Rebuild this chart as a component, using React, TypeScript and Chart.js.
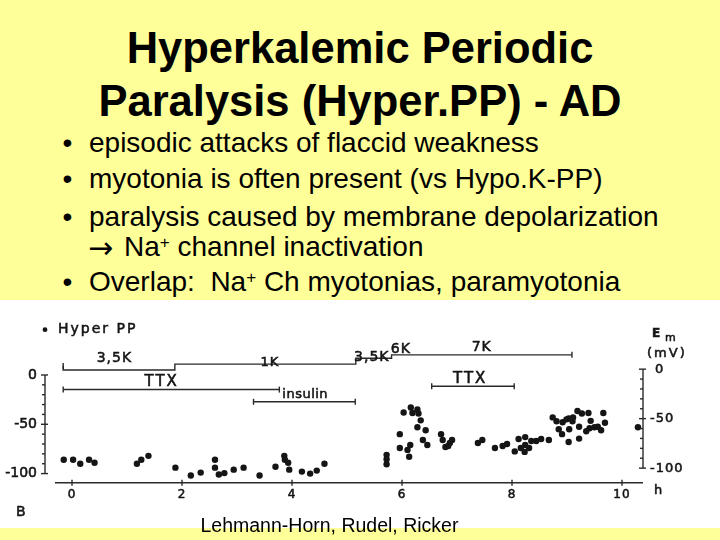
import React, { useEffect, useRef } from "react";
import { Chart, registerables } from "chart.js";

Chart.register(...registerables);

// ---- Data: membrane potential of Hyper PP muscle fibres over time ----
const hours = [
  -0.15, 0.02, 0.15, 0.31, 0.41, 1.18, 1.26, 1.39, 1.88, 2.16, 2.34, 2.6, 2.6, 2.67, 2.77,
  2.94, 3.12, 3.41, 3.7, 3.86, 3.87, 3.93, 3.95, 4.18, 4.33, 4.45, 4.59,
  5.72, 5.72, 5.72, 5.96, 5.96, 6.03, 6.1, 6.13, 6.15, 6.16, 6.19, 6.28, 6.3, 6.34, 6.28,
  6.38, 6.43, 6.46, 6.71, 6.74, 6.79, 6.84, 6.87, 6.91, 7.38, 7.46, 7.69, 7.83, 7.91,
  8.05, 8.12, 8.16, 8.23, 8.24, 8.24, 8.31, 8.35, 8.44, 8.53, 8.67, 8.74, 8.81, 8.85,
  8.91, 8.92, 8.99, 9.03, 9.03, 9.04, 9.1, 9.11, 9.19, 9.22, 9.22, 9.27, 9.35, 9.39,
  9.41, 9.43, 9.5, 9.56, 9.62, 9.66, 9.69, 10.29,
];
const emMv = [
  -86, -86, -90, -86, -89, -90, -86, -82, -94, -102, -99, -86, -94, -101, -99.5,
  -96, -94, -102, -93, -82, -86, -89, -96, -98, -100, -97, -90,
  -81, -85.5, -90.5, -60, -74, -38, -76, -83, -71, -33, -38.5, -35, -39, -46, -53,
  -66, -56, -71, -60, -66, -73, -72, -69, -66, -69, -66, -74, -72, -70,
  -77.5, -65, -74, -78, -63, -71, -74, -67, -67, -65, -66, -43, -47, -55,
  -60, -48, -45, -44, -68, -55, -47, -43, -36.5, -52.5, -64.5, -39, -57, -38.5,
  -54, -46.5, -53, -52.5, -56, -38.5, -48.5, -53,
];

// External K+ concentration steps (start hour of each level, last = end)
const kStepH = [-0.16, 1.87, 5.16, 5.81, 6.13, 9.09];
const kStepLevel = [9, 5, 11, 17, 20.4, 20.4];
const kLabels = ["3,5K", "1K", "3,5K", "6K", "7K"];
const kLabelH = [0.77, 3.6, 5.45, 5.98, 7.45];
const kLabelLevel = [17, 12.7, 17.4, 26.3, 28.2];

// Treatment bars
const barStartH = [-0.16, 3.3, 6.54];
const barEndH = [3.77, 5.15, 8.04];
const barLevel = [-14.8, -27.2, -11.4];
const barLabels = ["TTX", "insulin", "TTX"];
const barLabelH = [1.63, 4.24, 7.24];
const barLabelLevel = [-6.9, -20, -4.2];

// Axes
const xTicks = [0, 2, 4, 6, 8, 10];
const yTicks = [0, -50, -100];
const X_MIN = -0.4909;
const X_MAX = 10.3818;
const Y_MIN = -109.25;
const Y_MAX = 70.57;
const Y2_MIN = -114.71;
const Y2_MAX = 64.41;

const INK = "#151515";
const LINE = "#2a2a2a";

function drawText(
  ctx: CanvasRenderingContext2D,
  s: string,
  px: number,
  py: number,
  align: CanvasTextAlign,
  size: number,
  spacing: number,
  weight = "normal"
) {
  ctx.font = `${weight} ${size}px "DejaVu Sans", sans-serif`;
  (ctx as any).letterSpacing = `${spacing}px`;
  ctx.textAlign = align;
  ctx.textBaseline = "middle";
  ctx.fillText(s, px, py);
  ctx.save();
  ctx.lineWidth = 0.55;
  ctx.strokeStyle = INK;
  ctx.strokeText(s, px, py);
  ctx.restore();
}

const decorPlugin = {
  id: "scanDecor",
  afterDatasetsDraw(chart: any) {
    const { ctx } = chart;
    const x = chart.scales.x;
    const y = chart.scales.y;
    const y2 = chart.scales.y2;
    ctx.save();
    ctx.strokeStyle = LINE;
    ctx.fillStyle = INK;
    ctx.lineWidth = 1.4;
    const seg = (a: number, b: number, c: number, d: number) => {
      ctx.beginPath();
      ctx.moveTo(a, b);
      ctx.lineTo(c, d);
      ctx.stroke();
    };

    // left axis
    const lx = x.getPixelForValue(X_MIN);
    seg(lx, y.getPixelForValue(0), lx, y.getPixelForValue(-100));
    for (let v = 0; v >= -100; v -= 10) {
      const py = y.getPixelForValue(v);
      const major = v % 50 === 0;
      seg(lx - (major ? 4 : 3), py, lx + (major ? 3 : 0), py);
    }
    yTicks.forEach((v) => drawText(ctx, String(v), lx - 8, y.getPixelForValue(v), "right", 14, 0));

    // right axis
    const rx = x.getPixelForValue(X_MAX);
    seg(rx, y2.getPixelForValue(0), rx, y2.getPixelForValue(-100));
    for (let v = 0; v >= -100; v -= 10) {
      const py = y2.getPixelForValue(v);
      const major = v % 50 === 0;
      seg(rx - (major ? 4 : 3), py, rx + (major ? 3 : 0), py);
    }
    yTicks.forEach((v) =>
      drawText(ctx, String(v), rx + (v === 0 ? 12 : 7), y2.getPixelForValue(v), "left", 13, 1)
    );
    drawText(ctx, "E", rx + 9, y2.getPixelForValue(0) - 35, "left", 12, 0, "bold");
    drawText(ctx, "m", rx + 22, y2.getPixelForValue(0) - 31, "left", 11, 0.5);
    drawText(ctx, "(mV)", rx + 4, y2.getPixelForValue(0) - 16, "left", 13, 2);

    // x axis
    const by = y.getPixelForValue(Y_MIN);
    seg(x.getPixelForValue(-0.31), by, rx, by);
    xTicks.forEach((v) => {
      const px = x.getPixelForValue(v);
      seg(px, by - 3, px, by + 3);
      drawText(ctx, String(v), px, by + 12, "center", 12, 1);
    });
    drawText(ctx, "h", rx + 11, by + 8, "left", 13, 0);

    // K levels and treatments labels
    kLabels.forEach((s, i) =>
      drawText(ctx, s, x.getPixelForValue(kLabelH[i]), y.getPixelForValue(kLabelLevel[i]), "center", s === "1K" ? 13 : 14, 1)
    );
    barLabels.forEach((s, i) =>
      drawText(
        ctx,
        s,
        x.getPixelForValue(barLabelH[i]),
        y.getPixelForValue(barLabelLevel[i]),
        "center",
        s === "TTX" ? 15 : 13,
        s === "TTX" ? 2 : 0.5
      )
    );

    // legend
    const legY = y.getPixelForValue(46);
    ctx.beginPath();
    ctx.arc(lx, legY, 2.4, 0, Math.PI * 2);
    ctx.fill();
    drawText(ctx, "Hyper PP", lx + 13, legY, "left", 14, 2);

    // panel letter
    drawText(ctx, "B", lx - 29, by + 30, "left", 14, 0);
    ctx.restore();
  },
};

export default function App() {
  const ref = useRef<HTMLCanvasElement>(null);

  useEffect(() => {
    document.body.style.margin = "0";
    const pts = hours.map((h, i) => ({ x: h, y: emMv[i] }));
    const kPts = kStepH.map((h, i) => ({ x: h, y: kStepLevel[i] }));
    const barSets = barStartH.map((s, i) => ({
      label: barLabels[i],
      data: [
        { x: s, y: barLevel[i] },
        { x: barEndH[i], y: barLevel[i] },
      ],
      showLine: true,
      borderColor: LINE,
      borderWidth: 1.4,
      pointStyle: "line" as const,
      rotation: 90,
      pointRadius: 3,
      pointBorderColor: LINE,
      pointBorderWidth: 1.4,
      clip: false as const,
    }));
    const chart = new Chart(ref.current as HTMLCanvasElement, {
      type: "scatter",
      data: {
        datasets: [
          {
            label: "Hyper PP",
            data: pts,
            pointRadius: 3.2,
            pointBackgroundColor: INK,
            pointBorderWidth: 0,
            showLine: false,
          },
          {
            label: "K+",
            data: kPts,
            showLine: true,
            stepped: "after",
            borderColor: LINE,
            borderWidth: 1.4,
            pointStyle: "line",
            rotation: 90,
            pointRadius: kPts.map((_, i) => (i === 0 || i === kPts.length - 1 ? 3 : 0)),
            pointBorderColor: LINE,
            pointBorderWidth: 1.4,
            clip: false,
          } as any,
          ...barSets,
        ],
      },
      options: {
        animation: false,
        responsive: false,
        events: [],
        layout: { padding: { left: 45, right: 77, top: 0, bottom: 45.3 } },
        plugins: { legend: { display: false }, tooltip: { enabled: false } },
        scales: {
          x: { type: "linear", display: false, min: X_MIN, max: X_MAX },
          y: { type: "linear", display: false, min: Y_MIN, max: Y_MAX },
          y2: { type: "linear", display: false, position: "right", min: Y2_MIN, max: Y2_MAX },
        },
      },
      plugins: [decorPlugin],
    });
    return () => chart.destroy();
  }, []);

  const bulletText: React.CSSProperties = {
    position: "absolute",
    fontSize: 28,
    lineHeight: "32px",
    whiteSpace: "pre",
  };
  const sup: React.CSSProperties = { fontSize: 17, verticalAlign: 8.5, lineHeight: 0 };
  const lines = [
    { top: 126.6, text: "episodic attacks of flaccid weakness" },
    { top: 163.3, text: "myotonia is often present (vs Hypo.K-PP)" },
    { top: 201, text: "paralysis caused by membrane depolarization" },
  ];

  return (
    <div
      style={{
        position: "absolute",
        left: 0,
        top: 0,
        width: 720,
        height: 540,
        overflow: "hidden",
        background: "#FFFF99",
        color: "#000",
        fontFamily: '"Liberation Sans", Arial, sans-serif',
      }}
    >
      <div
        style={{
          position: "absolute",
          left: 0,
          top: 21.5,
          width: 720,
          textAlign: "center",
          fontWeight: "bold",
          fontSize: 43.5,
          lineHeight: "53.4px",
        }}
      >
        Hyperkalemic Periodic
        <br />
        Paralysis (Hyper.PP) - AD
      </div>
      {lines.map((l, i) => (
        <React.Fragment key={i}>
          <div style={{ ...bulletText, left: 62.5, top: l.top }}>•</div>
          <div style={{ ...bulletText, left: 89, top: l.top }}>{l.text}</div>
        </React.Fragment>
      ))}
      <div
        style={{
          ...bulletText,
          left: 88,
          top: 232,
          fontSize: 30,
          lineHeight: "32px",
          fontFamily: '"DejaVu Sans", sans-serif',
        }}
      >
        →
      </div>
      <div style={{ ...bulletText, left: 124, top: 231 }}>
        Na<span style={sup}>+</span> channel inactivation
      </div>
      <div style={{ ...bulletText, left: 62.5, top: 266 }}>•</div>
      <div style={{ ...bulletText, left: 89, top: 266 }}>
        {"Overlap:  Na"}
        <span style={sup}>+</span>
        {" Ch myotonias, paramyotonia"}
      </div>
      <div style={{ position: "absolute", left: 0, top: 300, width: 720, height: 228, background: "#fff" }}>
        <canvas ref={ref} width={720} height={228} style={{ display: "block", width: 720, height: 228 }} />
      </div>
      <div
        style={{
          position: "absolute",
          left: 200.5,
          top: 514,
          fontSize: 19.5,
          lineHeight: "22px",
          whiteSpace: "pre",
        }}
      >
        Lehmann-Horn, Rudel, Ricker
      </div>
    </div>
  );
}
